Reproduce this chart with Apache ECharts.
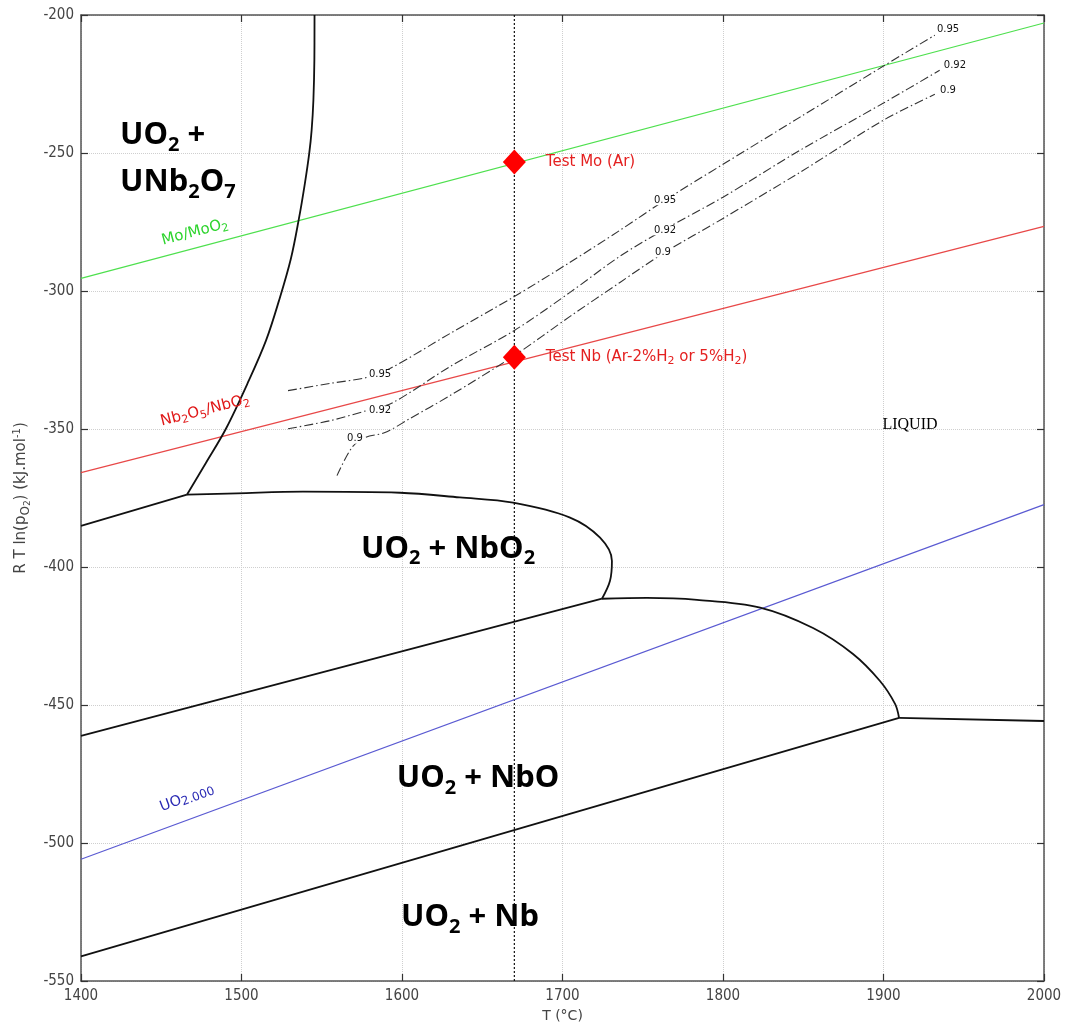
<!DOCTYPE html>
<html><head><meta charset="utf-8">
<script src="https://cdn.jsdelivr.net/npm/echarts@6/dist/echarts.min.js"></script>
<style>html,body{margin:0;padding:0;background:#fff}#c{width:1077px;height:1028px}</style>
</head><body><div id="c"></div>
<script>
// ---- axes ----
const xTicks = [1400, 1500, 1600, 1700, 1800, 1900, 2000];
const yTicks = [-550, -500, -450, -400, -350, -300, -250, -200];
const testLineT = 1670;

// ---- equilibrium lines ----
const moMoO2 = [[1400, -295.4], [2000, -202.9]];
const nb2o5NbO2 = [[1400, -365.8], [2000, -276.6]];
const uo2000 = [[1400, -505.9], [2000, -377.4]];

// ---- phase boundaries ----
const bndUNb2O7 = [[1545.5, -200], [1545.4, -216.3], [1544.8, -230.8], [1543.7, -241.7], [1542.2, -250.1], [1539.3, -261.7], [1535.8, -273.7], [1530.8, -288.2], [1523.4, -303.4], [1515.3, -317.9], [1504.6, -332.4], [1490.3, -349.9], [1477.9, -362.2], [1466.0, -373.8]];
const bndLeft = [[1400, -385.1], [1466.0, -373.8]];
const bndNbO2Top = [[1466.0, -373.8], [1497.2, -373.3], [1538.3, -372.7], [1598.8, -373.1], [1636, -374.8], [1669.2, -376.7], [1704.7, -382.1], [1723.4, -389.4], [1730.8, -397.8], [1729.6, -405.0], [1724.6, -411.5]];
const bndNbO2Bottom = [[1400, -461.2], [1724.6, -411.5]];
const bndNbODome = [[1724.6, -411.5], [1752.6, -411.2], [1783.8, -411.9], [1823.1, -414.7], [1856.1, -422.1], [1881.0, -431.5], [1897.8, -441.3], [1907.2, -449.6], [1909.7, -454.7]];
const bndLiquid = [[1909.7, -454.7], [2000, -455.8]];
const bndNbOBottom = [[1400, -541.1], [1909.7, -454.7]];

// ---- iso-lines (dash-dot) ----
const iso095 = [[1529.0, -336.1], [1555.1, -333.5], [1578.2, -331.3], [1592.5, -328.1], [1629.9, -315.4], [1670, -302.0], [1704.7, -289.6], [1735.8, -278.0], [1763.9, -267.1], [1800, -254.1], [1848, -237.0], [1900, -218.5], [1932, -207.3]];
const iso092 = [[1529.0, -349.9], [1555.1, -347.0], [1578.2, -343.3], [1594.4, -340.4], [1629.9, -327.4], [1670, -314.3], [1704.7, -300.5], [1735.8, -287.4], [1763.9, -277.6], [1800, -266.0], [1848, -249.0], [1900, -231.9], [1935, -220.0]];
const iso090 = [[1559.5, -366.9], [1568.8, -356.7], [1576.9, -353.1], [1589.4, -351.3], [1605.0, -346.2], [1629.9, -337.9], [1670, -323.4], [1704.7, -309.2], [1735.8, -296.9], [1762.6, -286.4], [1800, -273.7], [1848, -257.0], [1900, -238.1], [1932, -228.7]];
const isoLabelText = ['0.95', '0.95', '0.95', '0.92', '0.92', '0.92', '0.9', '0.9', '0.9'];
const isoLabelT = [1586.3, 1763.9, 1940.2, 1586.3, 1763.9, 1944.5, 1570.7, 1762.6, 1940.2];
const isoLabelY = [-330.3, -267.1, -205.4, -343.3, -278.0, -218.1, -353.5, -286.0, -227.2];

// ---- test points ----
const testT = [1670, 1670];
const testY = [-253.3, -324.0];
const testText = ['Test Mo (Ar)', 'Test Nb (Ar-2%H2 or 5%H2)'];

// ---- region labels ----
const regionText = ['UO2 +', 'UNb2O7', 'UO2 + NbO2', 'UO2 + NbO', 'UO2 + Nb'];
const regionT = [1424.3, 1424.3, 1628.7, 1647.4, 1642.4];
const regionY = [-243.5, -260.6, -393.4, -476.5, -526.9];

// ---- line labels ----
const lineLabelText = ['Mo/MoO2', 'Nb2O5/NbO2', 'UO2.000'];
const lineLabelT = [1471, 1477.3, 1466];
const lineLabelY = [-278.7, -343.3, -483.7];
const liquidText = ['LIQUID'];
const liquidT = [1916.5];
const liquidY = [-348.4];

function toRich(text, m, s) {
  let out = '', buf = '', i = 0;
  while (i < text.length) {
    const ch = text[i];
    if (/\d/.test(ch) && i > 0 && /[A-Za-z]/.test(text[i - 1])) {
      let j = i;
      while (j < text.length && /[\d.]/.test(text[j])) j++;
      if (buf) { out += '{' + m + '|' + buf + '}'; buf = ''; }
      out += '{' + s + '|' + text.slice(i, j) + '}';
      i = j;
    } else { buf += ch; i++; }
  }
  if (buf) out += '{' + m + '|' + buf + '}';
  return out;
}

const SANS = 'DejaVu Sans';
const BIG = 'Noto Sans';

function blackLine(data, smooth) {
  return { type: 'line', data: data, showSymbol: false, symbol: 'none', smooth: smooth ? 0.35 : false,
    lineStyle: { color: '#111', width: 1.8 }, z: 4, silent: true };
}
function isoLine(data) {
  return { type: 'line', data: data, showSymbol: false, symbol: 'none', smooth: 0.3,
    lineStyle: { color: '#333', width: 1.1, type: [9, 3, 1.5, 3] }, z: 3, silent: true };
}
function straight(data, color) {
  return { type: 'line', data: data, showSymbol: false, symbol: 'none',
    lineStyle: { color: color, width: 1.2 }, z: 3, silent: true };
}

const regionRich = {
  b: { fontFamily: BIG, fontWeight: 'bold', fontSize: 31, color: '#000', lineHeight: 40 },
  bs: { fontFamily: BIG, fontWeight: 'bold', fontSize: 20, color: '#000', lineHeight: 40, padding: [20, 0, 0, 0] }
};
const solid = { opacity: 1 };

const chart = echarts.init(document.getElementById('c'), null, { renderer: 'canvas' });
const axisCommon = {
  type: 'value', axisLine: { show: true, lineStyle: { color: '#555', width: 1.5 } },
  axisTick: { show: true, inside: true, length: 7, lineStyle: { color: '#333', width: 1.2 } }
};
chart.setOption({
  animation: false,
  backgroundColor: '#fff',
  grid: { left: 81, right: 33, top: 15, bottom: 46, containLabel: false },
  xAxis: [
    Object.assign({}, axisCommon, {
      min: xTicks[0], max: xTicks[xTicks.length - 1], interval: 100, position: 'bottom',
      name: 'T (°C)', nameLocation: 'middle', nameGap: 28,
      nameTextStyle: { fontFamily: SANS, fontSize: 14, color: '#444' },
      axisLabel: { fontFamily: 'DejaVu Sans Condensed', fontSize: 15, color: '#444', margin: 8, formatter: v => String(v) },
      splitLine: { show: true, lineStyle: { color: '#cfcfcf', type: 'dotted', width: 1 } }
    }),
    Object.assign({}, axisCommon, {
      min: xTicks[0], max: xTicks[xTicks.length - 1], interval: 100, position: 'top',
      axisLabel: { show: false }, splitLine: { show: false }
    })
  ],
  yAxis: [
    Object.assign({}, axisCommon, {
      min: yTicks[0], max: yTicks[yTicks.length - 1], interval: 50, position: 'left',
      name: '{a|R T ln(p}{s|O}{s2|2}{a|) (kJ.mol}{sup|-1}{a|)}', nameLocation: 'middle', nameGap: 45,
      nameTextStyle: { fontFamily: SANS, fontSize: 15, color: '#444',
        rich: {
          a: { fontFamily: SANS, fontSize: 15, color: '#444' },
          s: { fontFamily: SANS, fontSize: 12, color: '#444', padding: [8, 0, 0, 0] },
          s2: { fontFamily: SANS, fontSize: 9, color: '#444', padding: [13, 0, 0, 0] },
          sup: { fontFamily: SANS, fontSize: 10, color: '#444', padding: [0, 0, 9, 0] }
        } },
      axisLabel: { fontFamily: 'DejaVu Sans Condensed', fontSize: 15, color: '#444', margin: 7, formatter: v => String(v) },
      splitLine: { show: true, lineStyle: { color: '#cfcfcf', type: 'dotted', width: 1 } }
    }),
    Object.assign({}, axisCommon, {
      min: yTicks[0], max: yTicks[yTicks.length - 1], interval: 50, position: 'right',
      axisLabel: { show: false }, splitLine: { show: false }
    })
  ],
  series: [
    { type: 'line', data: [[testLineT, yTicks[0]], [testLineT, yTicks[yTicks.length - 1]]], showSymbol: false, symbol: 'none',
      lineStyle: { color: '#111', width: 1.2, type: [2, 2] }, z: 2, silent: true },
    straight(moMoO2, '#4ee04e'),
    straight(nb2o5NbO2, '#e84848'),
    straight(uo2000, '#5a5ad2'),
    blackLine(bndUNb2O7, true),
    blackLine(bndLeft, false),
    blackLine(bndNbO2Top, true),
    blackLine(bndNbO2Bottom, false),
    blackLine(bndNbODome, true),
    blackLine(bndLiquid, false),
    blackLine(bndNbOBottom, false),
    isoLine(iso095),
    isoLine(iso092),
    isoLine(iso090),
    { type: 'scatter', symbolSize: 0, z: 6, silent: true, itemStyle: solid,
      data: isoLabelText.map((t, i) => ({ value: [isoLabelT[i], isoLabelY[i]], name: t })),
      label: { show: true, position: 'inside', formatter: p => p.name, fontFamily: SANS, fontSize: 10, color: '#111',
        backgroundColor: '#fff', padding: [0, 1] } },
    { type: 'scatter', symbol: 'diamond', symbolSize: [23, 25], z: 7, silent: true,
      itemStyle: { color: '#ff0000', opacity: 1 },
      data: testText.map((t, i) => ({ value: [testT[i], testY[i]], name: t })),
      label: { show: true, position: 'right', distance: 20, formatter: p => toRich(p.name, 't', 'ts'),
        rich: {
          t: { fontFamily: SANS, fontSize: 15, color: '#e42020', lineHeight: 18 },
          ts: { fontFamily: SANS, fontSize: 11, color: '#e42020', lineHeight: 18, padding: [8, 0, 0, 0] }
        } } },
    { type: 'scatter', symbolSize: 0, z: 8, silent: true, itemStyle: solid,
      data: regionText.slice(0, 2).map((t, i) => ({ value: [regionT[i], regionY[i]], name: t })),
      label: { show: true, position: 'right', distance: 0, formatter: p => toRich(p.name, 'b', 'bs'), rich: regionRich } },
    { type: 'scatter', symbolSize: 0, z: 8, silent: true, itemStyle: solid,
      data: regionText.slice(2).map((t, i) => ({ value: [regionT[i + 2], regionY[i + 2]], name: t })),
      label: { show: true, position: 'inside', formatter: p => toRich(p.name, 'b', 'bs'), rich: regionRich } },
    { type: 'scatter', symbolSize: 0, z: 8, silent: true, itemStyle: solid,
      data: [
        { value: [lineLabelT[0], lineLabelY[0]], name: lineLabelText[0], label: { rotate: 14.8, rich: {
          m: { fontFamily: SANS, fontSize: 15, color: '#2ed42e' }, s: { fontFamily: SANS, fontSize: 11, color: '#2ed42e', padding: [8, 0, 0, 0] } } } },
        { value: [lineLabelT[1], lineLabelY[1]], name: lineLabelText[1], label: { rotate: 14.3, rich: {
          m: { fontFamily: SANS, fontSize: 15, color: '#e01818' }, s: { fontFamily: SANS, fontSize: 11, color: '#e01818', padding: [8, 0, 0, 0] } } } },
        { value: [lineLabelT[2], lineLabelY[2]], name: lineLabelText[2], label: { rotate: 20.2, rich: {
          m: { fontFamily: SANS, fontSize: 14.5, color: '#2a2ab4' }, s: { fontFamily: SANS, fontSize: 12, color: '#2a2ab4', padding: [5, 0, 0, 0] } } } }
      ],
      label: { show: true, position: 'inside', formatter: p => toRich(p.name, 'm', 's') } },
    { type: 'scatter', symbolSize: 0, z: 8, silent: true, itemStyle: solid,
      data: liquidText.map((t, i) => ({ value: [liquidT[i], liquidY[i]], name: t })),
      label: { show: true, position: 'inside', formatter: p => p.name, fontFamily: 'Liberation Serif', fontSize: 16, color: '#000' } }
  ]
});
</script></body></html>
